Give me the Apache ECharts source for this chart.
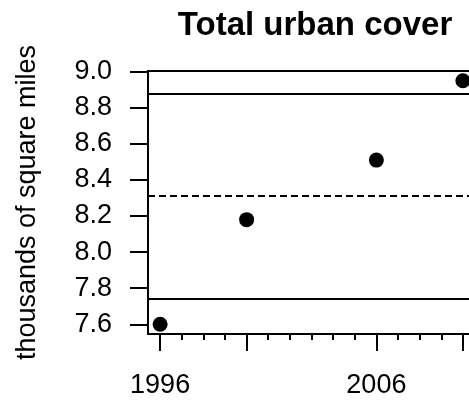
<!DOCTYPE html>
<html>
<head>
<meta charset="utf-8">
<script src="https://cdn.jsdelivr.net/npm/echarts@6/dist/echarts.min.js"></script>
<style>
html,body{margin:0;padding:0;background:#fff;}
#chart{width:469px;height:400px;}
</style>
</head>
<body>
<div id="chart"></div>
<script>
// ---- data ----
const years = [1996, 2000, 2006, 2010];
const urbanCover = [7.60, 8.18, 8.51, 8.95];
const meanLine = 8.31;
const upperLine = 8.88;
const lowerLine = 7.74;
const yTicks = [7.6, 7.8, 8.0, 8.2, 8.4, 8.6, 8.8, 9.0];
const xMajorTicks = [1996, 2000, 2006, 2010];
const xMinorTicks = [1996, 1997, 1998, 1999, 2000, 2001, 2002, 2003, 2004, 2005, 2006, 2007, 2008, 2009, 2010];
const xLabels = [1996, 2006];
const titleText = 'Total urban cover';
const yTitle = 'thousands of square miles';

// R-style 4% axis expansion
const xr = years[years.length - 1] - years[0];
const xMin = years[0] - 0.04 * xr, xMax = years[years.length - 1] + 0.04 * xr;
const yLo = Math.min(...urbanCover), yHi = Math.max(...urbanCover);
const yMin = yLo - 0.04 * (yHi - yLo), yMax = yHi + 0.04 * (yHi - yLo);

const FONT = '"Liberation Sans", Arial, Helvetica, sans-serif';
const chart = echarts.init(document.getElementById('chart'), null, {renderer: 'canvas'});

const baseX = {
  type: 'value', min: xMin, max: xMax, position: 'bottom',
  axisLine: {show: false}, splitLine: {show: false}
};

chart.setOption({
  backgroundColor: '#fff',
  animation: false,
  title: {
    text: titleText, left: 310, top: 4, textAlign: 'center',
    textStyle: {fontFamily: FONT, fontSize: 33, fontWeight: 'bold', color: '#000'}
  },
  grid: {
    left: 148, top: 71, width: 327, height: 263,
    containLabel: false, outerBoundsMode: 'none',
    show: true, borderColor: '#000', borderWidth: 2, backgroundColor: 'transparent'
  },
  xAxis: [
    Object.assign({}, baseX, {
      axisTick: {show: true, length: 17, lineStyle: {color: '#000', width: 2}, customValues: xMajorTicks},
      axisLabel: {show: true, margin: 38, fontFamily: FONT, fontSize: 27, color: '#000', customValues: xLabels,
                  formatter: v => String(v)}
    }),
    Object.assign({}, baseX, {
      axisTick: {show: true, length: 6, lineStyle: {color: '#000', width: 2}, customValues: xMinorTicks},
      axisLabel: {show: false}
    })
  ],
  yAxis: {
    type: 'value', min: yMin, max: yMax,
    axisLine: {show: false}, splitLine: {show: false},
    axisTick: {show: true, length: 18, lineStyle: {color: '#000', width: 2}, customValues: yTicks},
    axisLabel: {show: true, margin: 36, fontFamily: FONT, fontSize: 27, color: '#000', customValues: yTicks,
                formatter: v => v.toFixed(1)},
    name: yTitle, nameLocation: 'middle', nameRotate: 90, nameGap: 107,
    nameTextStyle: {fontFamily: FONT, fontSize: 27, color: '#000'}
  },
  series: [{
    type: 'scatter',
    data: years.map((y, i) => [y, urbanCover[i]]),
    symbol: 'circle', symbolSize: 15,
    itemStyle: {color: '#000', opacity: 1},
    silent: true,
    markLine: {
      silent: true, symbol: ['none', 'none'],
      label: {show: false},
      data: [
        {yAxis: upperLine, lineStyle: {type: 'solid', color: '#000', width: 2, opacity: 1}},
        {yAxis: meanLine, lineStyle: {type: [7, 4], color: '#000', width: 2, opacity: 1}},
        {yAxis: lowerLine, lineStyle: {type: 'solid', color: '#000', width: 2, opacity: 1}}
      ]
    }
  }]
});
</script>
</body>
</html>
